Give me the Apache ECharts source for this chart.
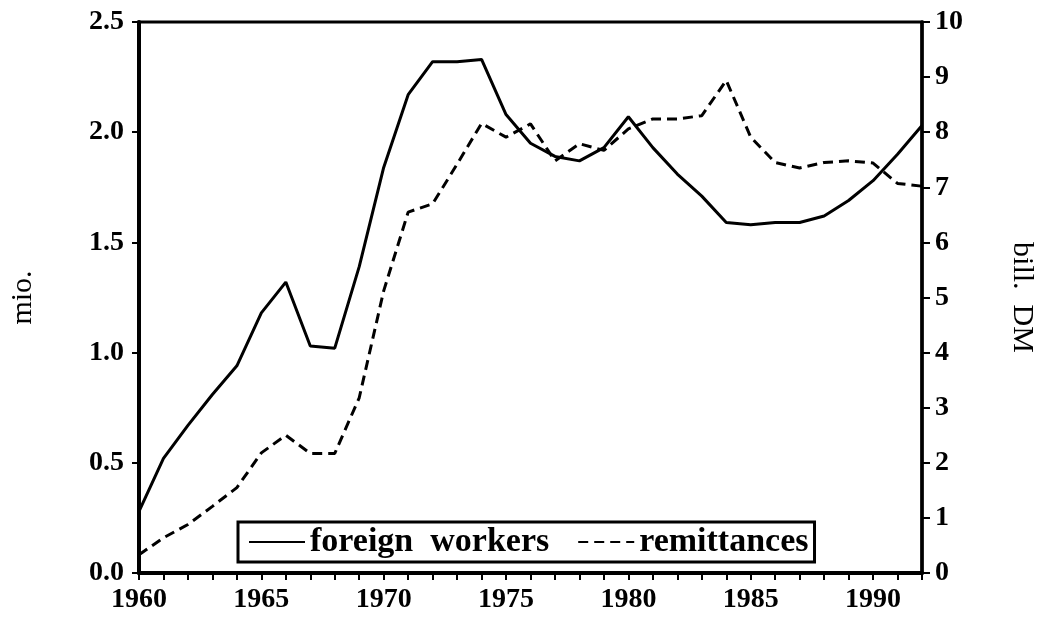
<!DOCTYPE html>
<html>
<head>
<meta charset="utf-8">
<script src="https://cdn.jsdelivr.net/npm/echarts@6/dist/echarts.min.js"></script>
<style>
  html, body { margin: 0; padding: 0; background: #fff; }
  #chart { width: 1045px; height: 619px; }
</style>
</head>
<body>
<div id="chart"></div>
<script>
  // years on the x axis
  const years = ['1960', '1961', '1962', '1963', '1964', '1965', '1966', '1967', '1968', '1969',
                 '1970', '1971', '1972', '1973', '1974', '1975', '1976', '1977', '1978', '1979',
                 '1980', '1981', '1982', '1983', '1984', '1985', '1986', '1987', '1988', '1989',
                 '1990', '1991', '1992'];
  // foreign workers, mio. (left axis)
  const workers = [0.28, 0.52, 0.67, 0.81, 0.94, 1.18, 1.32, 1.03, 1.02, 1.39,
                   1.84, 2.17, 2.32, 2.32, 2.33, 2.08, 1.95, 1.89, 1.87, 1.93,
                   2.07, 1.93, 1.81, 1.71, 1.59, 1.58, 1.59, 1.59, 1.62, 1.69,
                   1.78, 1.90, 2.03];
  // remittances, bill. DM (right axis)
  const remittances = [0.33, 0.64, 0.88, 1.21, 1.55, 2.18, 2.50, 2.17, 2.17, 3.18,
                       5.12, 6.55, 6.70, 7.42, 8.16, 7.91, 8.15, 7.48, 7.79, 7.67,
                       8.06, 8.24, 8.24, 8.30, 8.94, 7.91, 7.45, 7.35, 7.45, 7.48,
                       7.44, 7.07, 7.02];

  const serif = 'Liberation Serif';
  const labelStyle = { color: '#000', fontFamily: serif, fontWeight: 'bold', fontSize: 28 };
  const nameStyle = { color: '#000', fontFamily: serif, fontSize: 30 };
  const tickStyle = { color: '#000', width: 2 };

  const chart = echarts.init(document.getElementById('chart'), null, { renderer: 'canvas' });
  chart.setOption({
    animation: false,
    backgroundColor: '#fff',
    grid: {
      left: 124, right: 104, top: 22, bottom: 46,
      show: true, borderColor: '#000', borderWidth: 3
    },
    legend: {
      left: 238, top: 522,
      padding: [3, 6, 3, 10],
      borderColor: '#000', borderWidth: 3,
      itemWidth: 56, itemHeight: 10, itemGap: 28,
      itemStyle: { opacity: 0 },
      textStyle: { color: '#000', fontFamily: serif, fontWeight: 'bold', fontSize: 34 },
      formatter: function (name) { return name.replace(' ', '  '); },
      data: ['foreign workers', 'remittances']
    },
    xAxis: {
      type: 'category',
      data: years,
      boundaryGap: false,
      axisLine: { show: true, lineStyle: { color: '#000', width: 4 } },
      axisTick: { show: true, interval: 0, length: 7, lineStyle: tickStyle },
      axisLabel: Object.assign({ interval: 4, margin: 13 }, labelStyle),
      splitLine: { show: false }
    },
    yAxis: [{
      type: 'value',
      min: 0, max: 2.5, interval: 0.5,
      name: 'mio.',
      nameLocation: 'middle',
      nameGap: 101,
      nameRotate: 90,
      nameTextStyle: nameStyle,
      axisLine: { show: true, lineStyle: { color: '#000', width: 4 } },
      axisTick: { show: true, length: 7, lineStyle: tickStyle },
      axisLabel: Object.assign({ margin: 15, formatter: v => v.toFixed(1) }, labelStyle),
      splitLine: { show: false }
    }, {
      type: 'value',
      position: 'right',
      min: 0, max: 10, interval: 1,
      name: 'bill.  DM',
      nameLocation: 'middle',
      nameGap: 85,
      nameRotate: -90,
      nameTextStyle: nameStyle,
      axisLine: { show: true, lineStyle: { color: '#000', width: 3.5 } },
      axisTick: { show: true, length: 8, lineStyle: tickStyle },
      axisLabel: Object.assign({ margin: 13 }, labelStyle),
      splitLine: { show: false }
    }],
    series: [{
      name: 'foreign workers',
      type: 'line',
      yAxisIndex: 0,
      data: workers,
      symbol: 'none',
      itemStyle: { color: '#000' },
      lineStyle: { color: '#000', width: 3, type: 'solid' }
    }, {
      name: 'remittances',
      type: 'line',
      yAxisIndex: 1,
      data: remittances,
      symbol: 'none',
      itemStyle: { color: '#000' },
      lineStyle: { color: '#000', width: 3, type: [10, 6] }
    }]
  });
</script>
</body>
</html>
